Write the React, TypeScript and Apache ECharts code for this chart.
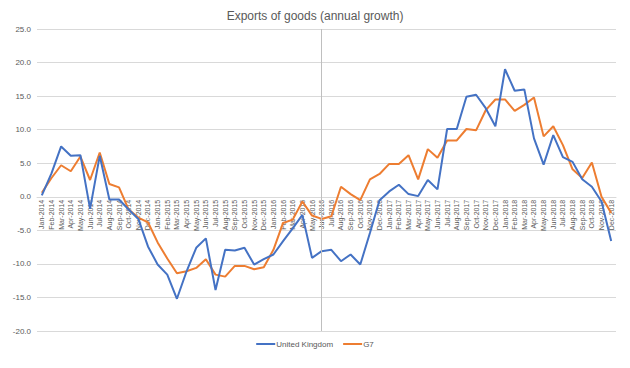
import React, { useEffect, useRef } from "react";
import * as echarts from "echarts";

const years = ["2014", "2015", "2016", "2017", "2018"];
const months = ["Jan", "Feb", "Mar", "Apr", "May", "Jun", "Jul", "Aug", "Sep", "Oct", "Nov", "Dec"];
const categories: string[] = [];
years.forEach((y) => months.forEach((m) => categories.push(`${m}-${y}`)));

const ukValues = [
  0.2, 3.5, 7.5, 6.1, 6.2, -1.8, 6.1, -0.4, -0.4, -1.9, -3.3, -7.4,
  -10.1, -11.6, -15.2, -11.1, -7.6, -6.2, -13.9, -7.9, -8.0, -7.6, -10.1, -9.3,
  -8.6, -6.6, -4.7, -2.7, -9.1, -8.1, -7.9, -9.6, -8.6, -10.1, -5.4, -0.5,
  0.8, 1.8, 0.4, 0.1, 2.5, 1.1, 10.1, 10.1, 14.9, 15.2, 13.2, 10.5,
  19.0, 15.8, 16.0, 8.7, 4.8, 9.2, 5.9, 5.2, 2.6, 1.5, -0.7, -6.6,
];

const g7Values = [
  0.6, 2.8, 4.7, 3.8, 6.0, 2.5, 6.6, 1.9, 1.4, -1.9, -3.1, -3.8,
  -6.8, -9.2, -11.4, -11.1, -10.6, -9.3, -11.6, -11.9, -10.3, -10.3, -10.8, -10.5,
  -7.9, -3.9, -3.4, -0.7, -2.8, -3.3, -2.9, 1.5, 0.4, -0.5, 2.6, 3.4,
  4.9, 4.9, 6.2, 2.6, 7.1, 5.8, 8.4, 8.4, 10.1, 9.9, 12.9, 14.5,
  14.5, 12.8, 13.7, 14.8, 9.0, 10.5, 7.7, 4.1, 2.8, 5.1, 0.0, -2.4,
];

const markerCategory = "Jun-2016";
const titleText = "Exports of goods (annual growth)";
const seriesNames = ["United Kingdom", "G7"];
const yMin = -20;
const yMax = 25;
const yStep = 5;

const FONT = "Liberation Sans";
const GRID = { left: 37, right: 14, top: 29, bottom: 37 };
const HEIGHT = 368;

export default function App() {
  const ref = useRef<HTMLDivElement>(null);
  useEffect(() => {
    if (!ref.current) return;
    const chart = echarts.init(ref.current, undefined, { renderer: "svg" });
    const gridH = HEIGHT - GRID.top - GRID.bottom;
    const zeroOffset = -(gridH * (0 - yMin)) / (yMax - yMin);
    chart.setOption({
      animation: false,
      backgroundColor: "#ffffff",
      textStyle: { fontFamily: FONT },
      title: {
        text: titleText,
        left: "center",
        top: 5,
        textStyle: { fontSize: 12, fontWeight: "normal", color: "#595959", fontFamily: FONT },
      },
      legend: {
        bottom: 15,
        left: "center",
        itemWidth: 19,
        itemHeight: 2,
        itemGap: 10,
        icon: "rect",
        textStyle: { fontSize: 8, color: "#595959", fontFamily: FONT, padding: [0, 0, 0, -4] },
        data: seriesNames,
      },
      grid: { ...GRID, containLabel: false },
      xAxis: {
        type: "category",
        data: categories,
        boundaryGap: true,
        position: "bottom",
        offset: zeroOffset,
        axisLine: { onZero: false, lineStyle: { color: "#d9d9d9", width: 1 } },
        axisTick: { show: false },
        axisLabel: { interval: 0, rotate: 90, fontSize: 7, color: "#595959", margin: 3, fontFamily: FONT },
        splitLine: { show: false },
      },
      yAxis: {
        type: "value",
        min: yMin,
        max: yMax,
        interval: yStep,
        axisLine: { show: false },
        axisTick: { show: false },
        axisLabel: {
          fontSize: 8,
          color: "#595959",
          margin: 6,
          fontFamily: FONT,
          formatter: (v: number) => v.toFixed(1),
        },
        splitLine: { lineStyle: { color: "#d9d9d9", width: 1 } },
      },
      series: [
        {
          name: seriesNames[0],
          type: "line",
          data: ukValues,
          showSymbol: false,
          symbol: "none",
          lineStyle: { color: "#4472C4", width: 2 },
          itemStyle: { color: "#4472C4" },
          z: 3,
          markLine: {
            silent: true,
            symbol: "none",
            label: { show: false },
            lineStyle: { color: "#bfbfbf", width: 1, type: "solid" },
            data: [{ xAxis: markerCategory }],
          },
        },
        {
          name: seriesNames[1],
          type: "line",
          data: g7Values,
          showSymbol: false,
          symbol: "none",
          lineStyle: { color: "#ED7D31", width: 2 },
          itemStyle: { color: "#ED7D31" },
          z: 2,
        },
      ],
    });
    return () => chart.dispose();
  }, []);
  return (
    <div
      ref={ref}
      style={{ position: "fixed", left: 0, top: 0, width: 630, height: 368 }}
    />
  );
}
